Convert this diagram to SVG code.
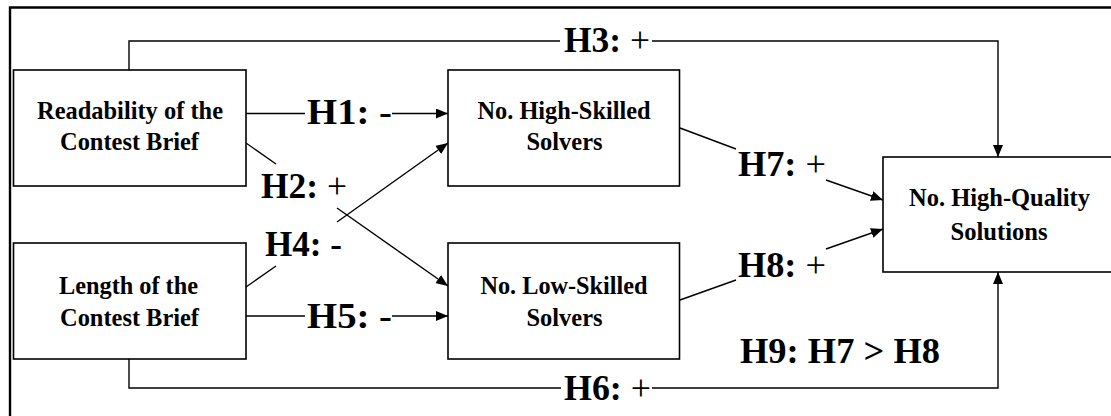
<svg xmlns="http://www.w3.org/2000/svg" width="1111" height="416" viewBox="0 0 1111 416">
  <defs>
    <marker id="arrow" viewBox="0 0 12 10" refX="12" refY="5" markerWidth="12" markerHeight="10" markerUnits="userSpaceOnUse" orient="auto">
      <path d="M0,0 L12,5 L0,10 Z" fill="#000"/>
    </marker>
    <style>
      .box { fill: #fff; stroke: #000; stroke-width: 1.6; }
      .frame { fill: none; stroke: #000; stroke-width: 2.4; }
      .link { fill: none; stroke: #000; stroke-width: 1.4; }
      .node-text { font-family: "Liberation Serif", "Times New Roman", serif; font-weight: bold; font-size: 26px; fill: #000; text-anchor: middle; }
      .label { font-family: "Liberation Serif", "Times New Roman", serif; font-weight: bold; font-size: 35px; fill: #000; }
      .thin { font-weight: normal; }
    </style>
  </defs>

  <rect x="0" y="0" width="1111" height="416" fill="#fff"/>

  <!-- outer frame: top and left edges -->
  <path class="frame" d="M10,416 V7.5 H1111"/>

  <!-- connectors -->
  <g id="connectors">
    <!-- H3: readability -> high-quality solutions -->
    <path class="link" d="M129,70 V41 H560"/>
    <path class="link" d="M652,41 H998 V157" marker-end="url(#arrow)"/>
    <!-- H1 -->
    <path class="link" d="M246,113.5 H305"/>
    <path class="link" d="M392,113.5 H448" marker-end="url(#arrow)"/>
    <!-- H2 -->
    <path class="link" d="M246,143 L276,164"/>
    <path class="link" d="M337,208 L448,286" marker-end="url(#arrow)"/>
    <!-- H4 -->
    <path class="link" d="M246,287 L276,266"/>
    <path class="link" d="M337,222 L448,143" marker-end="url(#arrow)"/>
    <!-- H5 -->
    <path class="link" d="M246,316 H305"/>
    <path class="link" d="M392,316 H448" marker-end="url(#arrow)"/>
    <!-- H7 -->
    <path class="link" d="M680,128 L736,149"/>
    <path class="link" d="M826,180 L883,200" marker-end="url(#arrow)"/>
    <!-- H8 -->
    <path class="link" d="M680,300 L736,280"/>
    <path class="link" d="M826,249 L883,229" marker-end="url(#arrow)"/>
    <!-- H6: length -> high-quality solutions -->
    <path class="link" d="M129,359 V388 H561"/>
    <path class="link" d="M652,388 H998 V272" marker-end="url(#arrow)"/>
  </g>

  <!-- nodes -->
  <g id="readability">
    <rect class="box" x="13.5" y="70" width="232.5" height="116"/>
    <text class="node-text" x="130" y="119" textLength="186" lengthAdjust="spacingAndGlyphs">Readability of the</text>
    <text class="node-text" x="129.5" y="150" textLength="139" lengthAdjust="spacingAndGlyphs">Contest Brief</text>
  </g>

  <g id="length">
    <rect class="box" x="13.5" y="243" width="232.5" height="116"/>
    <text class="node-text" x="128.5" y="294" textLength="139" lengthAdjust="spacingAndGlyphs">Length of the</text>
    <text class="node-text" x="129.5" y="325.5" textLength="139" lengthAdjust="spacingAndGlyphs">Contest Brief</text>
  </g>

  <g id="high-skilled">
    <rect class="box" x="448" y="70" width="231.5" height="116"/>
    <text class="node-text" x="564" y="119" textLength="173" lengthAdjust="spacingAndGlyphs">No. High-Skilled</text>
    <text class="node-text" x="564.5" y="150" textLength="76" lengthAdjust="spacingAndGlyphs">Solvers</text>
  </g>

  <g id="low-skilled">
    <rect class="box" x="448" y="243" width="231.5" height="116"/>
    <text class="node-text" x="564" y="294" textLength="167" lengthAdjust="spacingAndGlyphs">No. Low-Skilled</text>
    <text class="node-text" x="564.5" y="326" textLength="76" lengthAdjust="spacingAndGlyphs">Solvers</text>
  </g>

  <g id="high-quality">
    <rect class="box" x="883" y="157" width="240" height="115"/>
    <text class="node-text" x="999.5" y="206" textLength="181" lengthAdjust="spacingAndGlyphs">No. High-Quality</text>
    <text class="node-text" x="999" y="239.5" textLength="97" lengthAdjust="spacingAndGlyphs">Solutions</text>
  </g>

  <!-- hypothesis labels -->
  <g id="labels">
    <text class="label" x="564" y="52" textLength="86" lengthAdjust="spacingAndGlyphs">H3: <tspan class="thin">+</tspan></text>
    <text class="label" x="307" y="123.5" textLength="85" lengthAdjust="spacingAndGlyphs">H1: -</text>
    <text class="label" x="261" y="198" textLength="86" lengthAdjust="spacingAndGlyphs">H2: <tspan class="thin">+</tspan></text>
    <text class="label" x="265" y="256" textLength="77" lengthAdjust="spacingAndGlyphs">H4: -</text>
    <text class="label" x="307" y="328" textLength="85" lengthAdjust="spacingAndGlyphs">H5: -</text>
    <text class="label" x="738" y="176" textLength="88" lengthAdjust="spacingAndGlyphs">H7: <tspan class="thin">+</tspan></text>
    <text class="label" x="738" y="277" textLength="88" lengthAdjust="spacingAndGlyphs">H8: <tspan class="thin">+</tspan></text>
    <text class="label" x="740" y="362.5" textLength="200" lengthAdjust="spacingAndGlyphs">H9: H7 &gt; H8</text>
    <text class="label" x="564" y="400" textLength="87" lengthAdjust="spacingAndGlyphs">H6: <tspan class="thin">+</tspan></text>
  </g>
</svg>
